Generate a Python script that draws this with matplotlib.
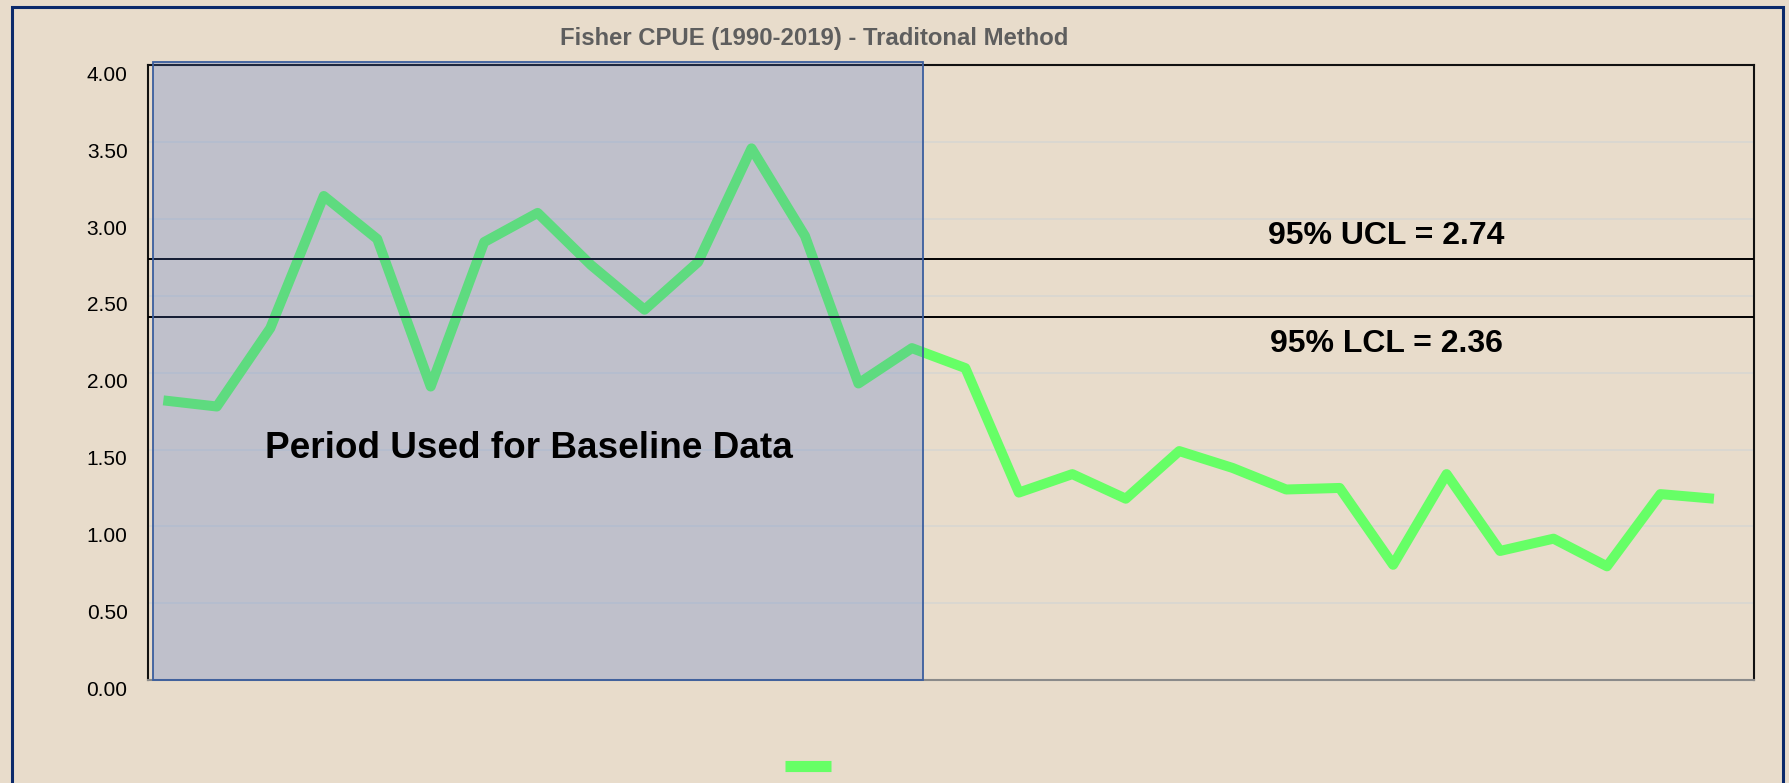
import matplotlib.pyplot as plt
from matplotlib.lines import Line2D
from matplotlib.patches import Rectangle
from matplotlib.transforms import ScaledTranslation

# CPUE by year, 1990-2019
years = list(range(1990, 2020))
cpue = [1.82, 1.78, 2.29, 3.15, 2.87, 1.91, 2.85, 3.04, 2.70, 2.41,
        2.72, 3.46, 2.89, 1.93, 2.16, 2.03, 1.22, 1.34, 1.18, 1.49,
        1.38, 1.24, 1.25, 0.75, 1.34, 0.84, 0.92, 0.74, 1.21, 1.18]

ucl = 2.74
lcl = 2.36
baseline_end = 2004  # last year of the baseline period

title = "Fisher CPUE (1990-2019) - Traditonal Method"
yticks = [0, 0.5, 1.0, 1.5, 2.0, 2.5, 3.0, 3.5, 4.0]

bg = "#E8DCCB"
green = "#66FF66"

plt.rcParams['font.family'] = ['Liberation Sans', 'DejaVu Sans']

fig = plt.figure(figsize=(17.9, 7.83), dpi=100, facecolor=bg)
ax = fig.add_axes([0.0829, 0.1315, 0.897, 0.785])
ax.set_facecolor(bg)

x = list(range(len(years)))
ax.plot(x, cpue, color=green, lw=7.2, solid_joinstyle='round', solid_capstyle='butt', zorder=3)

ax.axhline(ucl, color='black', lw=1.4, zorder=4)
ax.axhline(lcl, color='black', lw=1.4, zorder=4)

# shaded baseline period, drawn over the line
nb = years.index(baseline_end)
shade = Rectangle((-0.19, 0), nb + 0.39, 4.02, facecolor=(72/255, 112/255, 204/255, 0.25),
                  edgecolor='#3B5E9E', lw=1.3, zorder=5, clip_on=False)
ax.add_patch(shade)

ax.text(1.9, 1.447, "Period Used for Baseline Data", fontsize=26.6, fontweight='bold',
        ha='left', va='baseline', zorder=6)
ax.text(22.87, 2.84, f"95% UCL = {ucl:.2f}", fontsize=23, fontweight='bold',
        ha='center', va='baseline', zorder=6)
ax.text(22.87, 2.137, f"95% LCL = {lcl:.2f}", fontsize=23, fontweight='bold',
        ha='center', va='baseline', zorder=6)

ax.set_xlim(-0.28, 29.75)
ax.set_ylim(0, 4)
ax.set_xticks([])
ax.set_yticks(yticks)
ax.set_yticklabels([f"{v:.2f}" for v in yticks], fontsize=15)
ax.tick_params(axis='y', length=0, pad=15)
for lab in ax.get_yticklabels():
    lab.set_transform(lab.get_transform() + ScaledTranslation(0, -0.08, fig.dpi_scale_trans))
ax.grid(axis='y', color='#D8D6D2', lw=1.2, zorder=1)
ax.set_axisbelow(True)

for side in ['top', 'left', 'right']:
    ax.spines[side].set_color('#111111')
    ax.spines[side].set_linewidth(1.5)
ax.spines['bottom'].set_color('#8A8A8A')
ax.spines['bottom'].set_linewidth(1.5)

fig.text(814 / 1790, 1 - 38 / 783, title, fontsize=17.2, fontweight='bold',
         color='#5E5E5E', ha='center', va='center')

handle = Line2D([], [], color=green, lw=8, solid_capstyle='butt')
ax.legend(handles=[handle], labels=[''], loc='center', bbox_to_anchor=(808 / 1790, 1 - 768 / 783),
          bbox_transform=fig.transFigure, frameon=False, handlelength=2.4,
          handletextpad=0, fontsize=14)

# outer chart border
frame = Rectangle((12 / 1790, -0.05), (1783 - 12) / 1790, 1.05 - 7 / 783,
                  transform=fig.transFigure, fill=False, edgecolor='#0B2A6B', lw=2.2)
fig.add_artist(frame)

fig.savefig("out.png", dpi=100, facecolor=bg)
